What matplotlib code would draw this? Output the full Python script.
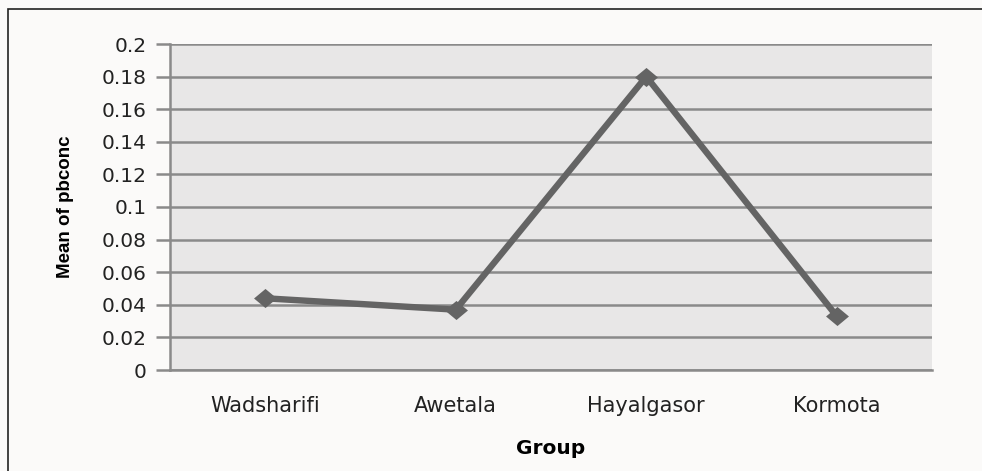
import matplotlib
matplotlib.use("Agg")
import matplotlib.pyplot as plt
from matplotlib.patches import Rectangle
from matplotlib.path import Path
import numpy as np

categories = ["Wadsharifi", "Awetala", "Hayalgasor", "Kormota"]
means = [0.044, 0.037, 0.180, 0.033]
yticks = [0, 0.02, 0.04, 0.06, 0.08, 0.1, 0.12, 0.14, 0.16, 0.18, 0.2]
ytick_labels = ["0", "0.02", "0.04", "0.06", "0.08", "0.1", "0.12", "0.14", "0.16", "0.18", "0.2"]

plt.rcParams['font.family'] = ['DejaVu Sans']

W, H = 982, 471
fig = plt.figure(figsize=(W / 100, H / 100), dpi=100)
fig.patch.set_facecolor("#fbfaf9")

# outer frame
fig.add_artist(Rectangle((8 / W, -0.05), 1.2, (H - 9) / H + 0.05, transform=fig.transFigure,
                         fill=False, edgecolor="#222222", linewidth=1.2))

left, right, top, bottom = 170, 932, 44, 370
ax = fig.add_axes([left / W, 1 - bottom / H, (right - left) / W, (bottom - top) / H])
ax.set_facecolor("#e8e7e7")

wide_diamond = Path([(-1.2, 0), (0, 1), (1.2, 0), (0, -1), (-1.2, 0)],
                    [Path.MOVETO, Path.LINETO, Path.LINETO, Path.LINETO, Path.CLOSEPOLY])

x = np.arange(len(categories))
ax.plot(x, means, color="#646464", linewidth=4.6, marker=wide_diamond, markersize=16.5,
        markeredgewidth=0, markerfacecolor="#646464", zorder=3)

ax.set_xlim(-0.5, len(categories) - 0.5)
ax.set_ylim(0, 0.2)
ax.set_yticks(yticks)
ax.set_yticklabels(ytick_labels, fontsize=14.5, color="#222222")
ax.set_xticks(x)
ax.set_xticklabels(categories, fontsize=15, color="#222222")
ax.tick_params(axis="y", length=10, color="#8a8a8a", width=1.8, pad=7)
ax.tick_params(axis="x", length=0, pad=19)
ax.grid(axis="y", color="#8a8a8a", linewidth=1.8)
ax.set_axisbelow(True)
for s in ["top", "right"]:
    ax.spines[s].set_visible(False)
ax.spines["left"].set_color("#8a8a8a")
ax.spines["left"].set_linewidth(1.8)
ax.spines["bottom"].set_color("#8a8a8a")
ax.spines["bottom"].set_linewidth(1.8)

ax.set_ylabel("Mean of pbconc", fontsize=13.5, fontweight="bold",
              family=["Liberation Sans", "DejaVu Sans"])
ax.yaxis.set_label_coords(-(left - 65) / (right - left), 0.5)
ax.yaxis.label.set_verticalalignment("center")
ax.set_xlabel("Group", fontsize=14.5, fontweight="bold")
ax.xaxis.set_label_coords(0.5, -(448 - bottom) / (bottom - top))
ax.xaxis.label.set_verticalalignment("center")

fig.savefig("out.png", dpi=100, facecolor=fig.get_facecolor())
